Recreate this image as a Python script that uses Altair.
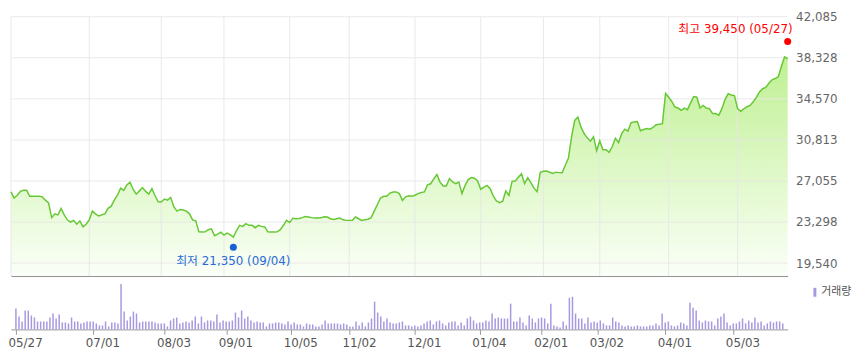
import altair as alt
import pandas as pd

# ---- data (one value per trading day, 2020-05-27 .. 2021-05-27) ----
PRICE = [
    26050, 25500, 25750, 26100, 26200, 26200, 25650, 25650, 25650, 25650,
    25600, 25300, 25050, 23700, 24050, 23950, 24550, 23950, 23500, 23300,
    23450, 23100, 23400, 22850, 23100, 23500, 24300, 24050, 23850, 23950,
    24050, 24550, 24750, 25300, 25750, 26400, 26200, 26700, 26950, 26300,
    25850, 26150, 26450, 26100, 25850, 26350, 25700, 25150, 25130, 25400,
    25300, 25550, 24700, 24300, 24450, 24400, 24300, 24050, 23500, 23400,
    22400, 22380, 22400, 22600, 22680, 22050, 22200, 22380, 22100, 22290,
    22150, 21920, 22500, 23000, 22900, 23150, 23000, 23000, 22780, 23000,
    22900, 22850, 22400, 22380, 22380, 22400, 22600, 23000, 23450, 23250,
    23650, 23600, 23620, 23700, 23800, 23750, 23700, 23660, 23660, 23680,
    23780, 23760, 23600, 23540, 23600, 23660, 23500, 23450, 23450, 23460,
    23760, 23600, 23450, 23500, 23560, 23700, 24300, 24900, 25500, 25650,
    25650, 25950, 26050, 26050, 25900, 25280, 25600, 25700, 25650, 25750,
    25900, 26000, 26050, 26700, 26800, 27250, 27650, 26950, 26600, 26600,
    27270, 26960, 26810, 26960, 25900, 26650, 27180, 27360, 27300, 27050,
    26300, 26500, 26650, 26350, 25700, 25220, 25070, 25200, 26140, 25740,
    27020, 27050, 27400, 27720, 26810, 27360, 26900, 26400, 26080, 27850,
    27950, 27960, 27850, 27750, 27860, 27820, 27800, 28500, 29160, 31100,
    32600, 32900, 32000, 31400, 31000, 30700, 31100, 29820, 30720, 29910,
    29910, 29670, 30210, 30960, 30570, 31400, 31800, 31620, 32400, 32450,
    32500, 31650, 31770, 31850, 31800, 31950, 32200, 32250, 32300, 35080,
    34720, 34330, 33820, 33730, 33520, 33730, 33580, 34200, 34780, 34720,
    33730, 33970, 33730, 33670, 33220, 33220, 33070, 33670, 34500, 35050,
    34930, 34870, 33670, 33430, 33650, 33850, 33970, 34300, 34700, 35200,
    35500, 35620, 36000, 36310, 36430, 36600, 37550, 38420, 38240,
]

VOLUME = [
    21, 13, 8, 19, 19, 14, 12, 8, 8, 8,
    8, 12, 16, 11, 15, 7, 7, 6, 12, 8,
    8, 6, 7, 8, 8, 8, 6, 4, 4, 8,
    3, 7, 7, 6, 46, 18, 9, 13, 18, 16,
    7, 8, 8, 8, 8, 7, 6, 6, 6, 3,
    9, 11, 12, 6, 7, 8, 7, 9, 13, 6,
    13, 7, 9, 9, 8, 15, 7, 9, 8, 8,
    9, 17, 12, 19, 11, 13, 9, 7, 8, 7,
    7, 3, 6, 6, 7, 7, 6, 5, 8, 5,
    7, 5, 5, 3, 6, 5, 5, 3, 3, 5,
    9, 6, 6, 6, 6, 5, 6, 5, 3, 3,
    8, 4, 7, 3, 7, 11, 28, 17, 13, 8,
    11, 7, 6, 6, 7, 8, 4, 4, 3, 4,
    3, 4, 6, 8, 9, 5, 8, 9, 6, 4,
    7, 8, 8, 4, 7, 4, 11, 13, 9, 6,
    7, 7, 9, 8, 16, 11, 12, 11, 11, 11,
    26, 8, 8, 12, 7, 4, 14, 11, 7, 11,
    12, 11, 6, 26, 4, 3, 2, 8, 4, 32,
    33, 16, 11, 11, 6, 12, 7, 8, 7, 9,
    6, 4, 4, 12, 8, 7, 4, 3, 4, 3,
    3, 4, 3, 3, 3, 4, 4, 6, 4, 16,
    7, 8, 4, 3, 4, 7, 6, 4, 27, 22,
    19, 9, 7, 9, 8, 8, 4, 11, 13, 16,
    7, 4, 6, 6, 8, 11, 6, 9, 7, 12,
    7, 8, 4, 6, 8, 7, 8, 8, 6,
]

TICK_IDX = [0, 25, 48, 68, 89, 108, 129, 150, 170, 188, 210, 232]
TICK_LABELS = ["05/27", "07/01", "08/03", "09/01", "10/05", "11/02",
               "12/01", "01/04", "02/01", "03/02", "04/01", "05/03"]
Y_TICKS = [19540, 23298, 27055, 30813, 34570, 38328, 42085]

HIGH_IDX, HIGH_VALUE, HIGH_DATE = 248, 39450, "05/27"
LOW_IDX, LOW_VALUE, LOW_DATE = 71, 21350, "09/04"
VOLUME_NAME = "거래량"

assert len(PRICE) == len(VOLUME) == 249

n = len(PRICE)
df = pd.DataFrame({"i": list(range(n)), "price": PRICE, "volume": VOLUME,
                   "series": [VOLUME_NAME] * n})

step = Y_TICKS[1] - Y_TICKS[0]
Y_MIN = Y_TICKS[0] - step * 13 / 41.5
Y_MAX = Y_TICKS[-1] + step * 7 / 41.5

FONT = '"DejaVu Sans", "Noto Sans CJK KR", sans-serif'
W = 785
PRICE_H = 269
VOL_H = 54

xscale = alt.Scale(domain=[0, n - 1], nice=False, zero=False)
yscale = alt.Scale(domain=[Y_MIN, Y_MAX], nice=False, zero=False)

X_AXIS_TOP = alt.Axis(title=None, labels=False, ticks=False, grid=False,
                      domain=True, domainColor="#8c8c8c", domainWidth=1)
Y_AXIS = alt.Axis(orient="right", values=Y_TICKS, title=None,
                  labelExpr="format(datum.value, ',')",
                  ticks=False, domain=False, grid=False, labelPadding=8,
                  labelFontSize=12, labelColor="#666666", labelFont=FONT)


def xp(field="i"):
    return alt.X(f"{field}:Q", scale=xscale, axis=X_AXIS_TOP)


def yp(field):
    return alt.Y(f"{field}:Q", scale=yscale, axis=Y_AXIS)


label_expr = " : ".join(f"datum.value == {i} ? '{l}'" for i, l in zip(TICK_IDX, TICK_LABELS)) + " : ''"

base = alt.Chart(df)

area = base.mark_area(
    color=alt.Gradient(
        gradient="linear",
        stops=[alt.GradientStop(color="#fbfff8", offset=0),
               alt.GradientStop(color="#bff092", offset=1)],
        x1=1, x2=1, y1=1, y2=0),
).encode(x=xp(), y=yp("price"), y2=alt.Y2(datum=Y_MIN))

hgrid = alt.Chart(pd.DataFrame({"v": Y_TICKS})).mark_rule(
    color="#e6e6e6", strokeWidth=1, opacity=0.9
).encode(y=yp("v"))

vgrid = alt.Chart(pd.DataFrame({"i": TICK_IDX})).mark_rule(
    color="#e6e6e6", strokeWidth=1, opacity=0.9
).encode(
    x=xp(),
    y=alt.Y(datum=Y_TICKS[-1], scale=yscale, axis=Y_AXIS),
    y2=alt.Y2(datum=Y_MIN),
)

line = base.mark_line(color="#66c834", strokeWidth=1.5).encode(x=xp(), y=yp("price"))

hi_df = pd.DataFrame([{"i": HIGH_IDX, "v": HIGH_VALUE,
                       "label": f"최고 {HIGH_VALUE:,} ({HIGH_DATE})"}])
lo_df = pd.DataFrame([{"i": LOW_IDX, "v": LOW_VALUE,
                       "label": f"최저 {LOW_VALUE:,} ({LOW_DATE})"}])

hi_pt = alt.Chart(hi_df).mark_circle(size=50, color="#ff0000", opacity=1, yOffset=-4).encode(
    x=xp(), y=yp("v"))
hi_tx = alt.Chart(hi_df).mark_text(align="right", baseline="middle", dx=5, dy=-17,
                                   color="#ff0000", fontSize=12, font=FONT).encode(
    x=xp(), y=yp("v"), text="label:N")
lo_pt = alt.Chart(lo_df).mark_circle(size=50, color="#1a5fd6", opacity=1, yOffset=4).encode(
    x=xp(), y=yp("v"))
lo_tx = alt.Chart(lo_df).mark_text(align="center", baseline="middle", dy=18,
                                   color="#2a6ad6", fontSize=12, font=FONT).encode(
    x=xp(), y=yp("v"), text="label:N")

price = alt.layer(area, hgrid, vgrid, line, hi_pt, hi_tx, lo_pt, lo_tx).properties(
    width=W, height=PRICE_H)

vol = base.mark_bar(size=1.5).encode(
    x=alt.X("i:Q", scale=xscale,
            axis=alt.Axis(values=TICK_IDX, labelExpr=label_expr, title=None, grid=False,
                          domainColor="#999999", tickColor="#999999", tickSize=5,
                          labelFontSize=12, labelColor="#555555", labelFont=FONT,
                          labelAlign="left", labelPadding=3, labelOffset=-8,
                          labelFlush=False, labelOverlap=False)),
    y=alt.Y("volume:Q", scale=alt.Scale(domain=[0, VOL_H], nice=False), axis=None),
    color=alt.Color("series:N", scale=alt.Scale(range=["#a898e0"]),
                    legend=alt.Legend(orient="none", legendX=807, legendY=280, title=None,
                                      symbolType="M-0.33,-1L0.33,-1L0.33,1L-0.33,1Z",
                                      symbolSize=81, symbolStrokeWidth=0,
                                      labelFontSize=11, labelColor="#555555",
                                      labelFont=FONT, labelOffset=1, padding=0)),
).properties(width=W, height=VOL_H)

chart = alt.vconcat(price, vol, spacing=0, bounds="flush").properties(
    padding={"left": 0, "top": 0, "right": 0, "bottom": 0}
).configure(background="white", padding=0).configure_view(stroke=None)

chart.save("out.html", embed_options={"renderer": "svg", "actions": False})
